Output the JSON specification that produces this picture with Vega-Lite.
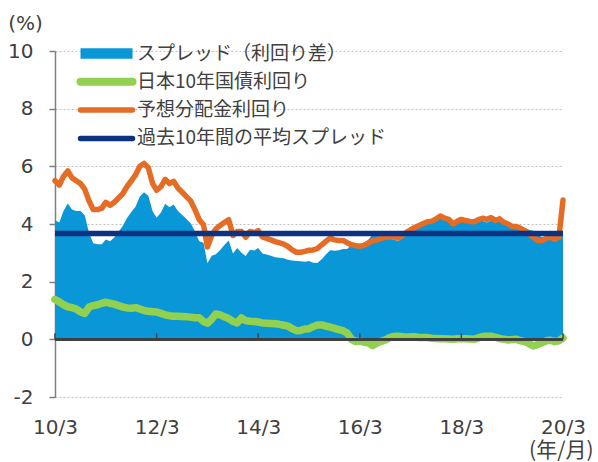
{
  "$schema": "https://vega.github.io/schema/vega-lite/v6.json",
  "width": 508,
  "height": 346,
  "autosize": {"type": "none"},
  "padding": {"left": 55, "top": 51, "right": 35, "bottom": 65},
  "background": "white",
  "config": {
    "font": "DejaVu Sans",
    "view": {"stroke": null}
  },
  "data": {"values": [
    {"d":"2010-03","div":5.5,"jgb":1.38,"spr":4.12},
    {"d":"2010-04","div":5.35,"jgb":1.3,"spr":4.05},
    {"d":"2010-05","div":5.65,"jgb":1.2,"spr":4.45},
    {"d":"2010-06","div":5.84,"jgb":1.13,"spr":4.71},
    {"d":"2010-07","div":5.6,"jgb":1.1,"spr":4.5},
    {"d":"2010-08","div":5.5,"jgb":1.05,"spr":4.45},
    {"d":"2010-09","div":5.4,"jgb":0.95,"spr":4.45},
    {"d":"2010-10","div":5.2,"jgb":0.9,"spr":4.3},
    {"d":"2010-11","div":4.8,"jgb":1.12,"spr":3.68},
    {"d":"2010-12","div":4.5,"jgb":1.17,"spr":3.33},
    {"d":"2011-01","div":4.5,"jgb":1.2,"spr":3.3},
    {"d":"2011-02","div":4.55,"jgb":1.25,"spr":3.3},
    {"d":"2011-03","div":4.75,"jgb":1.29,"spr":3.46},
    {"d":"2011-04","div":4.65,"jgb":1.25,"spr":3.4},
    {"d":"2011-05","div":4.75,"jgb":1.22,"spr":3.53},
    {"d":"2011-06","div":4.9,"jgb":1.17,"spr":3.73},
    {"d":"2011-07","div":5.05,"jgb":1.12,"spr":3.93},
    {"d":"2011-08","div":5.3,"jgb":1.09,"spr":4.21},
    {"d":"2011-09","div":5.5,"jgb":1.08,"spr":4.42},
    {"d":"2011-10","div":5.7,"jgb":1.1,"spr":4.6},
    {"d":"2011-11","div":6.0,"jgb":1.05,"spr":4.95},
    {"d":"2011-12","div":6.1,"jgb":1.0,"spr":5.1},
    {"d":"2012-01","div":5.95,"jgb":0.97,"spr":4.98},
    {"d":"2012-02","div":5.4,"jgb":0.96,"spr":4.44},
    {"d":"2012-03","div":5.17,"jgb":0.95,"spr":4.22},
    {"d":"2012-04","div":5.3,"jgb":0.9,"spr":4.4},
    {"d":"2012-05","div":5.55,"jgb":0.85,"spr":4.7},
    {"d":"2012-06","div":5.4,"jgb":0.82,"spr":4.58},
    {"d":"2012-07","div":5.48,"jgb":0.8,"spr":4.68},
    {"d":"2012-08","div":5.25,"jgb":0.8,"spr":4.45},
    {"d":"2012-09","div":5.1,"jgb":0.79,"spr":4.31},
    {"d":"2012-10","div":4.95,"jgb":0.78,"spr":4.17},
    {"d":"2012-11","div":4.8,"jgb":0.77,"spr":4.03},
    {"d":"2012-12","div":4.5,"jgb":0.75,"spr":3.75},
    {"d":"2013-01","div":4.15,"jgb":0.75,"spr":3.4},
    {"d":"2013-02","div":3.97,"jgb":0.62,"spr":3.35},
    {"d":"2013-03","div":3.2,"jgb":0.56,"spr":2.64},
    {"d":"2013-04","div":3.6,"jgb":0.7,"spr":2.9},
    {"d":"2013-05","div":3.83,"jgb":0.88,"spr":2.95},
    {"d":"2013-06","div":3.95,"jgb":0.85,"spr":3.1},
    {"d":"2013-07","div":4.05,"jgb":0.78,"spr":3.27},
    {"d":"2013-08","div":4.15,"jgb":0.72,"spr":3.43},
    {"d":"2013-09","div":3.6,"jgb":0.62,"spr":2.98},
    {"d":"2013-10","div":3.74,"jgb":0.57,"spr":3.17},
    {"d":"2013-11","div":3.74,"jgb":0.74,"spr":3.0},
    {"d":"2013-12","div":3.54,"jgb":0.65,"spr":2.89},
    {"d":"2014-01","div":3.74,"jgb":0.63,"spr":3.11},
    {"d":"2014-02","div":3.7,"jgb":0.62,"spr":3.08},
    {"d":"2014-03","div":3.77,"jgb":0.6,"spr":3.17},
    {"d":"2014-04","div":3.55,"jgb":0.57,"spr":2.98},
    {"d":"2014-05","div":3.5,"jgb":0.56,"spr":2.94},
    {"d":"2014-06","div":3.45,"jgb":0.55,"spr":2.9},
    {"d":"2014-07","div":3.39,"jgb":0.54,"spr":2.85},
    {"d":"2014-08","div":3.35,"jgb":0.52,"spr":2.83},
    {"d":"2014-09","div":3.3,"jgb":0.49,"spr":2.81},
    {"d":"2014-10","div":3.22,"jgb":0.46,"spr":2.76},
    {"d":"2014-11","div":3.1,"jgb":0.37,"spr":2.73},
    {"d":"2014-12","div":3.02,"jgb":0.3,"spr":2.72},
    {"d":"2015-01","div":3.02,"jgb":0.31,"spr":2.71},
    {"d":"2015-02","div":3.05,"jgb":0.36,"spr":2.69},
    {"d":"2015-03","div":3.09,"jgb":0.37,"spr":2.72},
    {"d":"2015-04","div":3.1,"jgb":0.44,"spr":2.66},
    {"d":"2015-05","div":3.15,"jgb":0.5,"spr":2.65},
    {"d":"2015-06","div":3.28,"jgb":0.5,"spr":2.78},
    {"d":"2015-07","div":3.4,"jgb":0.46,"spr":2.94},
    {"d":"2015-08","div":3.51,"jgb":0.42,"spr":3.09},
    {"d":"2015-09","div":3.45,"jgb":0.38,"spr":3.07},
    {"d":"2015-10","div":3.43,"jgb":0.34,"spr":3.09},
    {"d":"2015-11","div":3.43,"jgb":0.3,"spr":3.13},
    {"d":"2015-12","div":3.35,"jgb":0.22,"spr":3.13},
    {"d":"2016-01","div":3.28,"jgb":0.0,"spr":3.28},
    {"d":"2016-02","div":3.25,"jgb":-0.08,"spr":3.33},
    {"d":"2016-03","div":3.23,"jgb":-0.06,"spr":3.29},
    {"d":"2016-04","div":3.26,"jgb":-0.1,"spr":3.36},
    {"d":"2016-05","div":3.33,"jgb":-0.12,"spr":3.45},
    {"d":"2016-06","div":3.42,"jgb":-0.22,"spr":3.64},
    {"d":"2016-07","div":3.45,"jgb":-0.13,"spr":3.58},
    {"d":"2016-08","div":3.5,"jgb":-0.07,"spr":3.57},
    {"d":"2016-09","div":3.54,"jgb":-0.02,"spr":3.56},
    {"d":"2016-10","div":3.55,"jgb":0.06,"spr":3.49},
    {"d":"2016-11","div":3.56,"jgb":0.1,"spr":3.46},
    {"d":"2016-12","div":3.51,"jgb":0.11,"spr":3.4},
    {"d":"2017-01","div":3.6,"jgb":0.09,"spr":3.51},
    {"d":"2017-02","div":3.72,"jgb":0.07,"spr":3.65},
    {"d":"2017-03","div":3.8,"jgb":0.09,"spr":3.71},
    {"d":"2017-04","div":3.88,"jgb":0.09,"spr":3.79},
    {"d":"2017-05","div":3.95,"jgb":0.06,"spr":3.89},
    {"d":"2017-06","div":4.02,"jgb":0.06,"spr":3.96},
    {"d":"2017-07","div":4.08,"jgb":0.06,"spr":4.02},
    {"d":"2017-08","div":4.1,"jgb":0.04,"spr":4.06},
    {"d":"2017-09","div":4.18,"jgb":0.03,"spr":4.15},
    {"d":"2017-10","div":4.28,"jgb":0.02,"spr":4.26},
    {"d":"2017-11","div":4.2,"jgb":0.02,"spr":4.18},
    {"d":"2017-12","div":4.16,"jgb":0.01,"spr":4.15},
    {"d":"2018-01","div":4.0,"jgb":0.0,"spr":4.0},
    {"d":"2018-02","div":4.1,"jgb":0.02,"spr":4.08},
    {"d":"2018-03","div":4.16,"jgb":0.02,"spr":4.14},
    {"d":"2018-04","div":4.12,"jgb":0.02,"spr":4.1},
    {"d":"2018-05","div":4.09,"jgb":0.01,"spr":4.08},
    {"d":"2018-06","div":4.08,"jgb":0.0,"spr":4.08},
    {"d":"2018-07","div":4.15,"jgb":0.05,"spr":4.1},
    {"d":"2018-08","div":4.2,"jgb":0.1,"spr":4.1},
    {"d":"2018-09","div":4.16,"jgb":0.11,"spr":4.05},
    {"d":"2018-10","div":4.22,"jgb":0.11,"spr":4.11},
    {"d":"2018-11","div":4.12,"jgb":0.07,"spr":4.05},
    {"d":"2018-12","div":4.18,"jgb":0.03,"spr":4.15},
    {"d":"2019-01","div":4.06,"jgb":0.0,"spr":4.06},
    {"d":"2019-02","div":4.0,"jgb":-0.02,"spr":4.02},
    {"d":"2019-03","div":3.92,"jgb":-0.01,"spr":3.93},
    {"d":"2019-04","div":3.91,"jgb":0.0,"spr":3.91},
    {"d":"2019-05","div":3.85,"jgb":-0.05,"spr":3.9},
    {"d":"2019-06","div":3.77,"jgb":-0.08,"spr":3.85},
    {"d":"2019-07","div":3.65,"jgb":-0.15,"spr":3.8},
    {"d":"2019-08","div":3.54,"jgb":-0.23,"spr":3.77},
    {"d":"2019-09","div":3.43,"jgb":-0.18,"spr":3.61},
    {"d":"2019-10","div":3.43,"jgb":-0.12,"spr":3.55},
    {"d":"2019-11","div":3.5,"jgb":-0.05,"spr":3.55},
    {"d":"2019-12","div":3.54,"jgb":-0.03,"spr":3.57},
    {"d":"2020-01","div":3.47,"jgb":-0.08,"spr":3.55},
    {"d":"2020-02","div":3.55,"jgb":-0.05,"spr":3.6},
    {"d":"2020-03","div":4.83,"jgb":0.05,"spr":3.6}
  ]},
  "layer": [
    {
      "mark": {"type": "area", "interpolate": "linear"},
      "encoding": {
        "x": {
          "field": "d", "type": "temporal", "timeUnit": "utcyearmonth",
          "scale": {"domain": [{"year": 2010, "month": 3, "date": 1, "utc": true}, {"year": 2020, "month": 3, "date": 1, "utc": true}]},
          "axis": {
            "orient": "bottom",
            "values": [
              {"year": 2010, "month": 3, "date": 1, "utc": true},
              {"year": 2012, "month": 3, "date": 1, "utc": true},
              {"year": 2014, "month": 3, "date": 1, "utc": true},
              {"year": 2016, "month": 3, "date": 1, "utc": true},
              {"year": 2018, "month": 3, "date": 1, "utc": true},
              {"year": 2020, "month": 3, "date": 1, "utc": true}
            ],
            "format": "%y/%-m",
            "domain": false, "ticks": false, "grid": false,
            "labelFlush": false, "labelOverlap": false,
            "labelPadding": 20, "labelFont": "DejaVu Sans", "labelFontSize": 20, "labelColor": "#404040",
            "title": "(年/月)",
            "titleFont": "Noto Sans CJK JP", "titleFontSize": 21, "titleFontWeight": "normal", "titleColor": "#404040",
            "titleAnchor": null, "titleX": 538, "titleY": 53, "titleAlign": "right", "titleBaseline": "middle"
          }
        },
        "y": {
          "field": "spr", "type": "quantitative",
          "scale": {"domain": [-2, 10], "nice": false, "zero": false},
          "axis": {
            "values": [-2, 0, 2, 4, 6, 8, 10],
            "labelExpr": "replace(datum.label, '−', '-')",
            "title": "(%)", "titleAngle": 0, "titleX": -30, "titleY": -28,
            "titleAlign": "center", "titleBaseline": "middle",
            "titleFont": "DejaVu Sans", "titleFontSize": 20, "titleFontWeight": "normal", "titleColor": "#404040",
            "labelFont": "DejaVu Sans", "labelFontSize": 20, "labelColor": "#404040", "labelPadding": 16,
            "tickSize": 6, "tickColor": "#7f7f7f", "tickWidth": 1.5,
            "domainColor": "#7f7f7f", "domainWidth": 1.5,
            "grid": true, "gridColor": "#bfbfbf", "gridDash": [2, 2], "gridWidth": 1
          }
        },
        "color": {
          "datum": "スプレッド（利回り差）",
          "scale": {
            "domain": ["スプレッド（利回り差）", "日本10年国債利回り", "予想分配金利回り", "過去10年間の平均スプレッド"],
            "range": ["#0a97d7", "#92d050", "#e46c24", "#0d3282"]
          },
          "legend": {
            "orient": "none",
            "legendX": 42,
            "legendY": -7,
            "title": null,
            "padding": 0,
            "symbolType": "stroke",
            "symbolSize": 2704,
            "symbolStrokeWidth": 5.5,
            "labelFont": "Noto Sans CJK JP",
            "labelFontSize": 19,
            "labelColor": "#404040",
            "labelOffset": 21,
            "labelLimit": 400,
            "rowPadding": 8.3,
            "encode": {
              "symbols": {
                "update": {
                  "size": {"value": 2704},
                  "shape": {"signal": "datum.value === 'スプレッド（利回り差）' ? 'M-1,-0.2H1V0.2H-1Z' : 'stroke'"},
                  "fill": {"signal": "datum.value === 'スプレッド（利回り差）' ? '#0a97d7' : 'transparent'"},
                  "stroke": {"signal": "datum.value === 'スプレッド（利回り差）' ? 'transparent' : scale('color', datum.value)"},
                  "strokeWidth": {"signal": "datum.value === 'スプレッド（利回り差）' ? 0 : datum.value === '日本10年国債利回り' ? 8 : 5.5"},
                  "strokeCap": {"value": "round"},
                  "strokeJoin": {"value": "round"},
                  "opacity": {"value": 1}
                }
              }
            }
          }
        }
      }
    },
    {
      "mark": {"type": "line", "strokeWidth": 7.5, "strokeCap": "round", "strokeJoin": "round"},
      "encoding": {
        "x": {"field": "d", "type": "temporal", "timeUnit": "utcyearmonth"},
        "y": {"field": "jgb", "type": "quantitative"},
        "color": {"datum": "日本10年国債利回り"}
      }
    },
    {
      "mark": {"type": "rule", "color": "#404040", "strokeWidth": 2},
      "encoding": {"y": {"datum": 0}}
    },
    {
      "data": {"values": [{"t": "2010-03"}, {"t": "2012-03"}, {"t": "2014-03"}, {"t": "2016-03"}, {"t": "2018-03"}, {"t": "2020-03"}]},
      "mark": {"type": "rule", "color": "#404040", "strokeWidth": 1.5},
      "encoding": {
        "x": {"field": "t", "type": "temporal", "timeUnit": "utcyearmonth"},
        "y": {"datum": 0},
        "y2": {"datum": 0.21}
      }
    },
    {
      "mark": {"type": "line", "strokeWidth": 5.5, "strokeCap": "round", "strokeJoin": "round"},
      "encoding": {
        "x": {"field": "d", "type": "temporal", "timeUnit": "utcyearmonth"},
        "y": {"field": "div", "type": "quantitative"},
        "color": {"datum": "予想分配金利回り"}
      }
    },
    {
      "data": {"values": [{"avg": 3.67}]},
      "mark": {"type": "rule", "strokeWidth": 5.5},
      "encoding": {
        "y": {"field": "avg", "type": "quantitative"},
        "color": {"datum": "過去10年間の平均スプレッド"}
      }
    }
  ]
}
